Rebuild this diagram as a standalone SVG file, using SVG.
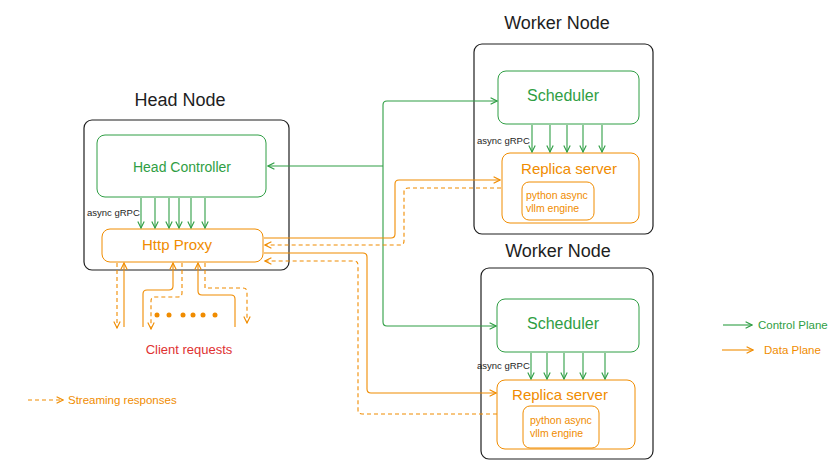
<svg xmlns="http://www.w3.org/2000/svg" width="840" height="469" viewBox="0 0 840 469">
<defs>
<marker id="ag" viewBox="0 0 10 10" refX="9" refY="5" markerWidth="8" markerHeight="8" markerUnits="userSpaceOnUse" orient="auto"><path d="M1,1 L9,5 L1,9" fill="none" stroke="#2f9e44" stroke-width="1.4"/></marker>
<marker id="ao" viewBox="0 0 10 10" refX="9" refY="5" markerWidth="8" markerHeight="8" markerUnits="userSpaceOnUse" orient="auto"><path d="M1,1 L9,5 L1,9" fill="none" stroke="#f08c00" stroke-width="1.4"/></marker>
</defs>
<style>
text{font-family:"Liberation Sans",Arial,sans-serif}
.node{fill:#fff;stroke:#1e1e1e;stroke-width:1.2}
.gbox{fill:none;stroke:#2f9e44;stroke-width:1}
.obox{fill:none;stroke:#f08c00;stroke-width:1}
.title{font-size:18px;fill:#1e1e1e;text-anchor:middle}
.gt{fill:#2f9e44;text-anchor:middle}
.ot{fill:#f08c00}
.small{font-size:9.5px;fill:#1e1e1e}
.g{fill:none;stroke:#2f9e44;stroke-width:1.1;marker-end:url(#ag)}
.o{fill:none;stroke:#f08c00;stroke-width:1.1;marker-end:url(#ao)}
.od{fill:none;stroke:#f08c00;stroke-width:1.1;stroke-dasharray:4 3;marker-end:url(#ao)}
</style>
<rect width="840" height="469" fill="#fff"/>

<g id="head-node">
<text class="title" x="180" y="106" font-size="19">Head Node</text>
<rect class="node" x="84" y="120" width="205" height="150" rx="8"/>
</g>
<g id="head-controller">
<rect class="gbox" x="97" y="135" width="169" height="62" rx="8"/>
<text class="gt" x="182" y="172" font-size="14">Head Controller</text>
</g>
<g id="http-proxy">
<rect class="obox" x="102" y="229" width="161" height="33" rx="8"/>
<text class="ot" x="177" y="250" font-size="15" text-anchor="middle">Http Proxy</text>
</g>

<g id="worker-node-1">
<text class="title" x="557" y="29" font-size="17">Worker Node</text>
<rect class="node" x="474" y="44" width="179" height="190" rx="8"/>
</g>
<g id="scheduler-1">
<rect class="gbox" x="498" y="71" width="141" height="53" rx="8"/>
<text class="gt" x="563" y="101" font-size="16">Scheduler</text>
</g>
<g id="replica-server-1">
<rect class="obox" x="502" y="153" width="137" height="70" rx="8"/>
<text class="ot" x="569" y="174" font-size="15" text-anchor="middle">Replica server</text>
</g>
<g id="engine-1">
<rect class="obox" x="522" y="182" width="72" height="38" rx="7"/>
<text class="ot" x="526" y="199" font-size="10.5">python async</text>
<text class="ot" x="526" y="212" font-size="10.5">vllm engine</text>
</g>

<g id="worker-node-2">
<text class="title" x="558" y="257" font-size="17">Worker Node</text>
<rect class="node" x="481" y="268" width="172" height="191" rx="8"/>
</g>
<g id="scheduler-2">
<rect class="gbox" x="497" y="299" width="142" height="53" rx="8"/>
<text class="gt" x="563" y="329" font-size="16">Scheduler</text>
</g>
<g id="replica-server-2">
<rect class="obox" x="497" y="380" width="138" height="69" rx="8"/>
<text class="ot" x="560" y="400" font-size="15" text-anchor="middle">Replica server</text>
</g>
<g id="engine-2">
<rect class="obox" x="523" y="406" width="76" height="42" rx="7"/>
<text class="ot" x="530" y="424" font-size="10.5">python async</text>
<text class="ot" x="530" y="437" font-size="10.5">vllm engine</text>
</g>

<g id="labels">
<text class="small" x="87" y="216">async gRPC</text>
<text class="small" x="477" y="144">async gRPC</text>
<text class="small" x="477" y="369">async gRPC</text>
<text x="189" y="354" font-size="13" fill="#e03131" text-anchor="middle">Client requests</text>
<text class="ot" x="68" y="404" font-size="11.5">Streaming responses</text>
<text x="758" y="329" font-size="11.5" fill="#2f9e44">Control Plane</text>
<text class="ot" x="764" y="354" font-size="11.5">Data Plane</text>
<g fill="#f08c00">
<circle cx="157" cy="315" r="2.5"/><circle cx="169" cy="315" r="2.5"/><circle cx="183" cy="315" r="2.5"/><circle cx="193" cy="315" r="2.5"/><circle cx="203" cy="315" r="2.5"/><circle cx="215" cy="315" r="2.5"/>
</g>
</g>

<g id="connectors">
<path class="g" d="M141,198 V228"/><path class="g" d="M155,198 V228"/><path class="g" d="M169,198 V228"/><path class="g" d="M179,198 V228"/><path class="g" d="M191,198 V228"/><path class="g" d="M205,198 V228"/>
<path class="g" d="M532,125 V152"/><path class="g" d="M550,125 V152"/><path class="g" d="M567,125 V152"/><path class="g" d="M583,125 V152"/><path class="g" d="M602,125 V152"/>
<path class="g" d="M531,353 V379"/><path class="g" d="M547,353 V379"/><path class="g" d="M564,353 V379"/><path class="g" d="M583,353 V379"/><path class="g" d="M605,353 V379"/>
<path class="g" stroke-width="1.6" d="M383,166 L268,166"/>
<path class="g" d="M383,166 L383,105 Q383,101 387,101 L497,101"/>
<path class="g" d="M383,166 L383,322 Q383,326 387,326 L496,326"/>
<path class="o" d="M264,238 L391,238 Q395,238 395,234 L395,184 Q395,180 399,180 L500,180"/>
<path class="od" d="M501,188 L408,188 Q404,188 404,192 L404,241 Q404,245 400,245 L265,245"/>
<path class="o" d="M264,253 L363,253 Q367,253 367,257 L367,389 Q367,393 371,393 L496,393"/>
<path class="od" d="M497,414 L362,414 Q358,414 358,410 L358,265 Q358,261 354,261 L265,261"/>
<path class="od" d="M117,263 L117,328"/>
<path class="o" d="M124,327 L124,263"/>
<path class="o" d="M143,327 L143,294 Q143,290 147,290 L169,290 Q173,290 173,286 L173,263"/>
<path class="od" d="M182,263 L182,293 Q182,297 178,297 L155,297 Q151,297 151,301 L151,329"/>
<path class="o" d="M235,327 L235,299 Q235,295 231,295 L202,295 Q198,295 198,291 L198,263"/>
<path class="od" d="M205,263 L205,288 L243,288 Q247,288 247,292 L247,323"/>
<path class="g" d="M723,325 L752,325"/>
<path class="o" d="M722,350 L753,350"/>
<path class="od" d="M28,400 L63,400"/>
</g>
</svg>
